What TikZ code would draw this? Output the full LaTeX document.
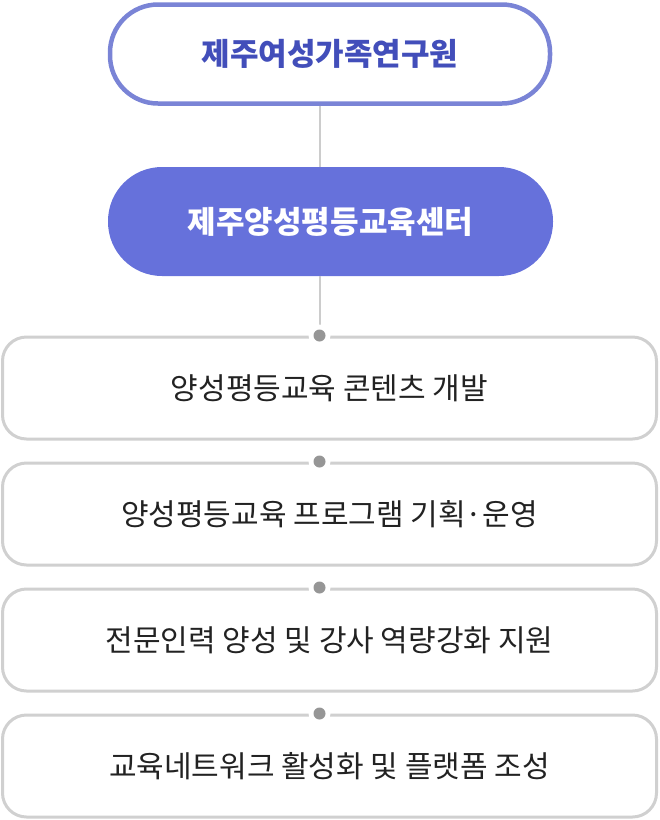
\documentclass[tikz,border=0pt]{standalone}
\usepackage{fontspec}
\setmainfont{Noto Sans CJK KR}
\usetikzlibrary{positioning, calc}
\definecolor{instblue}{RGB}{122, 132, 214}
\definecolor{centerblue}{RGB}{102, 113, 219}
\definecolor{titleblue}{RGB}{66, 78, 186}
\definecolor{boxgray}{RGB}{208, 208, 208}
\definecolor{dotgray}{RGB}{150, 150, 150}
\definecolor{linegray}{RGB}{204, 204, 204}
\definecolor{textgray}{RGB}{34, 34, 34}

\begin{document}
\begin{tikzpicture}[x=1pt, y=-1pt,
    instbox/.style={draw=instblue, line width=4.5pt, fill=white, rounded corners=48pt,
      minimum width=440pt, minimum height=99pt, font=\fontsize{31}{36}\selectfont\bfseries, text=titleblue},
    centerbox/.style={fill=centerblue, rounded corners=54pt,
      minimum width=445pt, minimum height=109pt, font=\fontsize{31}{36}\selectfont\bfseries, text=white},
    taskbox/.style={draw=boxgray, line width=3pt, fill=white, rounded corners=24pt,
      minimum width=654pt, minimum height=102pt, font=\fontsize{30}{34}\selectfont, text=textgray}]
        \useasboundingbox (0,0) rectangle (660,820);
        % Institute and center
        \node[instbox] (inst) at (330,54) {제주여성가족연구원};
        \node[centerbox] (center) at (330.5,221.5) {제주양성평등교육센터};
        % Task boxes
        \foreach \n/\y/\txt in {
            1/388/양성평등교육 콘텐츠 개발,
            2/514/양성평등교육 프로그램 기획·운영,
            3/640/전문인력 양성 및 강사 역량강화 지원,
            4/766/교육네트워크 활성화 및 플랫폼 조성}{
          \node[taskbox] (task\n) at (329.5,\y) {\txt};
        }
        % Spine line and dots
        \coordinate (spine) at (319.5,0);
        \draw[linegray, line width=2pt] (inst.south -| spine) -- (center.north -| spine);
        \draw[linegray, line width=2pt] (center.south -| spine) -- ($(task1.north -| spine)+(0,-6)$);
        \foreach \n in {1,...,4}{
          \fill[white] (task\n.north -| spine) circle (11pt);
          \fill[dotgray] (task\n.north -| spine) circle (6pt);
        }
      \end{tikzpicture}
\end{document}
